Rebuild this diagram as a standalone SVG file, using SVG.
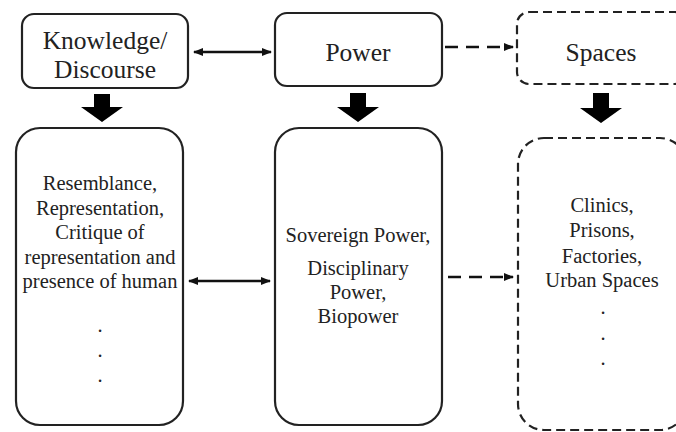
<svg xmlns="http://www.w3.org/2000/svg" width="676" height="432" viewBox="0 0 676 432">
<defs>
<style>
.box{fill:#fff;stroke:#222;stroke-width:2.2}
.dbox{fill:#fff;stroke:#222;stroke-width:2.2;stroke-dasharray:9 5}
.t{font-family:"Liberation Serif","Times New Roman",serif;fill:#222;text-anchor:middle}
.top{font-size:25.5px}
.bt{font-size:20.5px}
.line{stroke:#111;stroke-width:2.4;fill:none}
.dline{stroke:#111;stroke-width:2.6;fill:none;stroke-dasharray:13 8}
.big{fill:#000}
</style>
<marker id="ah" viewBox="0 0 10 10" refX="9" refY="5" markerWidth="10" markerHeight="10" markerUnits="userSpaceOnUse" orient="auto-start-reverse">
<path d="M0,1 L10,5 L0,9 Z" fill="#111"/>
</marker>
</defs>
<rect width="676" height="432" fill="#fff"/>

<g id="knowledge">
<rect class="box" x="22" y="14" width="166" height="74" rx="12"/>
<text class="t top" x="105" y="49">Knowledge/</text>
<text class="t top" x="105" y="78">Discourse</text>
</g>
<g id="power">
<rect class="box" x="275" y="13" width="167" height="73" rx="12"/>
<text class="t top" x="358" y="61">Power</text>
</g>
<g id="spaces">
<rect class="dbox" x="517" y="12" width="170" height="72" rx="12"/>
<text class="t top" x="601" y="61">Spaces</text>
</g>

<g id="knowledge-detail">
<rect class="box" x="16" y="128" width="167" height="297" rx="24"/>
<text class="t bt" x="100" y="190">Resemblance,</text>
<text class="t bt" x="100" y="214.5">Representation,</text>
<text class="t bt" x="100" y="239">Critique of</text>
<text class="t bt" x="100" y="263.5">representation and</text>
<text class="t bt" x="100" y="288">presence of human</text>
<text class="t bt" x="100" y="332">.</text>
<text class="t bt" x="100" y="357">.</text>
<text class="t bt" x="100" y="382">.</text>
</g>
<g id="power-detail">
<rect class="box" x="275" y="128" width="167" height="297" rx="24"/>
<text class="t bt" x="358" y="241.5">Sovereign Power,</text>
<text class="t bt" x="358" y="275">Disciplinary</text>
<text class="t bt" x="358" y="298.5">Power,</text>
<text class="t bt" x="358" y="322.5">Biopower</text>
</g>
<g id="spaces-detail">
<rect class="dbox" x="518" y="138" width="168" height="292" rx="26"/>
<text class="t bt" x="602" y="212">Clinics,</text>
<text class="t bt" x="602" y="237">Prisons,</text>
<text class="t bt" x="602" y="263">Factories,</text>
<text class="t bt" x="602" y="287">Urban Spaces</text>
<text class="t bt" x="603" y="314">.</text>
<text class="t bt" x="603" y="340">.</text>
<text class="t bt" x="603" y="365">.</text>
</g>

<g id="connectors">
<line class="line" x1="194" y1="52" x2="271" y2="52" marker-start="url(#ah)" marker-end="url(#ah)"/>
<line class="dline" x1="445" y1="47" x2="513" y2="47" marker-end="url(#ah)"/>
<line class="line" x1="189" y1="281" x2="270" y2="281" marker-start="url(#ah)" marker-end="url(#ah)"/>
<line class="dline" x1="448" y1="277" x2="513" y2="277" marker-end="url(#ah)"/>
<polygon class="big" points="94,94 110,94 110,107 123,107 102,122 81,107 94,107"/>
<polygon class="big" points="350,93 366,93 366,107 379,107 358,122 337,107 350,107"/>
<polygon class="big" points="593,93 609,93 609,108 622,108 601,123 580,108 593,108"/>
</g>
</svg>
